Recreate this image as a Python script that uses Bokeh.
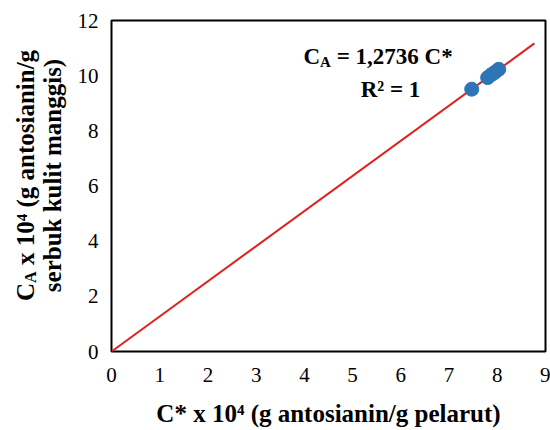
import math
from bokeh.plotting import figure
from bokeh.models import Label, Range1d, FixedTicker
from bokeh.embed import file_html
from bokeh.resources import INLINE

# ---- data ----
c_star = [7.47, 7.80, 7.88, 7.95, 8.03]          # C* x 10^4
c_a = [9.51, 9.93, 10.04, 10.12, 10.23]          # C_A x 10^4
slope = 1.2736                                   # trendline C_A = 1,2736 C*
trend_x = [0.0, 8.77]
x_ticks = [0, 1, 2, 3, 4, 5, 6, 7, 8, 9]
y_ticks = [0, 2, 4, 6, 8, 10, 12]

FONT = "Liberation Serif"

W, H = 550, 430
L, R, T, B = 111, 545, 20, 351   # frame edges in canvas pixels
XMIN, XMAX, YMIN, YMAX = 0, 9, 0, 12

p = figure(width=W, height=H, output_backend="svg", toolbar_location=None,
           x_range=Range1d(XMIN, XMAX), y_range=Range1d(YMIN, YMAX),
           min_border_left=L, min_border_right=W - R,
           min_border_top=T, min_border_bottom=H - B)
p.background_fill_color = "white"
p.border_fill_color = "white"
p.outline_line_color = "black"
p.outline_line_width = 2
p.xgrid.visible = False
p.ygrid.visible = False

for ax in (p.xaxis[0], p.yaxis[0]):
    ax.axis_line_color = None
    ax.major_tick_line_color = None
    ax.minor_tick_line_color = None
    ax.major_tick_out = 0
    ax.major_tick_in = 0
    ax.minor_tick_out = 0
    ax.major_label_text_font = FONT
    ax.major_label_text_font_size = "21px"
    ax.major_label_text_color = "black"
p.xaxis[0].ticker = FixedTicker(ticks=x_ticks)
p.yaxis[0].ticker = FixedTicker(ticks=y_ticks)
p.xaxis[0].major_label_standoff = 16
p.yaxis[0].major_label_standoff = 13

trend_y = [slope * v for v in trend_x]
p.line(trend_x, trend_y, line_color="#E0201E", line_width=2)
p.scatter(c_star, c_a, size=14, fill_color="#2E75B6", line_color="#2E75B6")


def lab(text, px, py, size, align="left", baseline="alphabetic", angle=0.0, bold=True, place="center"):
    p.add_layout(Label(x=px, y=py, x_units="canvas", y_units="canvas",
                       text=text, text_font=FONT,
                       text_font_size=f"{size}px",
                       text_font_style="bold" if bold else "normal",
                       text_align=align, text_baseline=baseline, angle=angle,
                       text_color="black"), place)


# ---- equation annotation ----
fs, sub = 23, 15
x0, base1 = 303, 56
lab("C", x0, base1, fs)
lab("A", x0 + 0.722 * fs, base1 + 5, sub)
lab("= 1,2736 C*", x0 + 0.722 * fs + 0.722 * sub + 0.25 * fs, base1, fs)
lab("R² = 1", 390, 89, fs, align="center")

# ---- x axis title ----
lab("C* x 10⁴ (g antosianin/g pelarut)", 328, 413, 25, align="center", baseline="middle", place="below")

# ---- y axis title (two rotated lines) ----
afs, sfs = 25, 16
w_c = 0.722 * afs
w_a = 0.722 * sfs
w_sp = 0.25 * afs
w_rest = 8.6 * afs
total = w_c + w_a + w_sp + w_rest
start = 175 + total / 2
ang = math.pi / 2
lab("C", 25, start, afs, baseline="middle", angle=ang, place="above")
lab("A", 30, start - w_c, sfs, baseline="middle", angle=ang, place="left")
lab("x 10⁴ (g antosianin/g", 25, start - w_c - w_a - w_sp, afs, baseline="middle", angle=ang, place="left")
lab("serbuk kulit manggis)", 52, 175, afs, align="center", baseline="middle", angle=ang, place="left")

open("out.html", "w").write(file_html(p, INLINE))
